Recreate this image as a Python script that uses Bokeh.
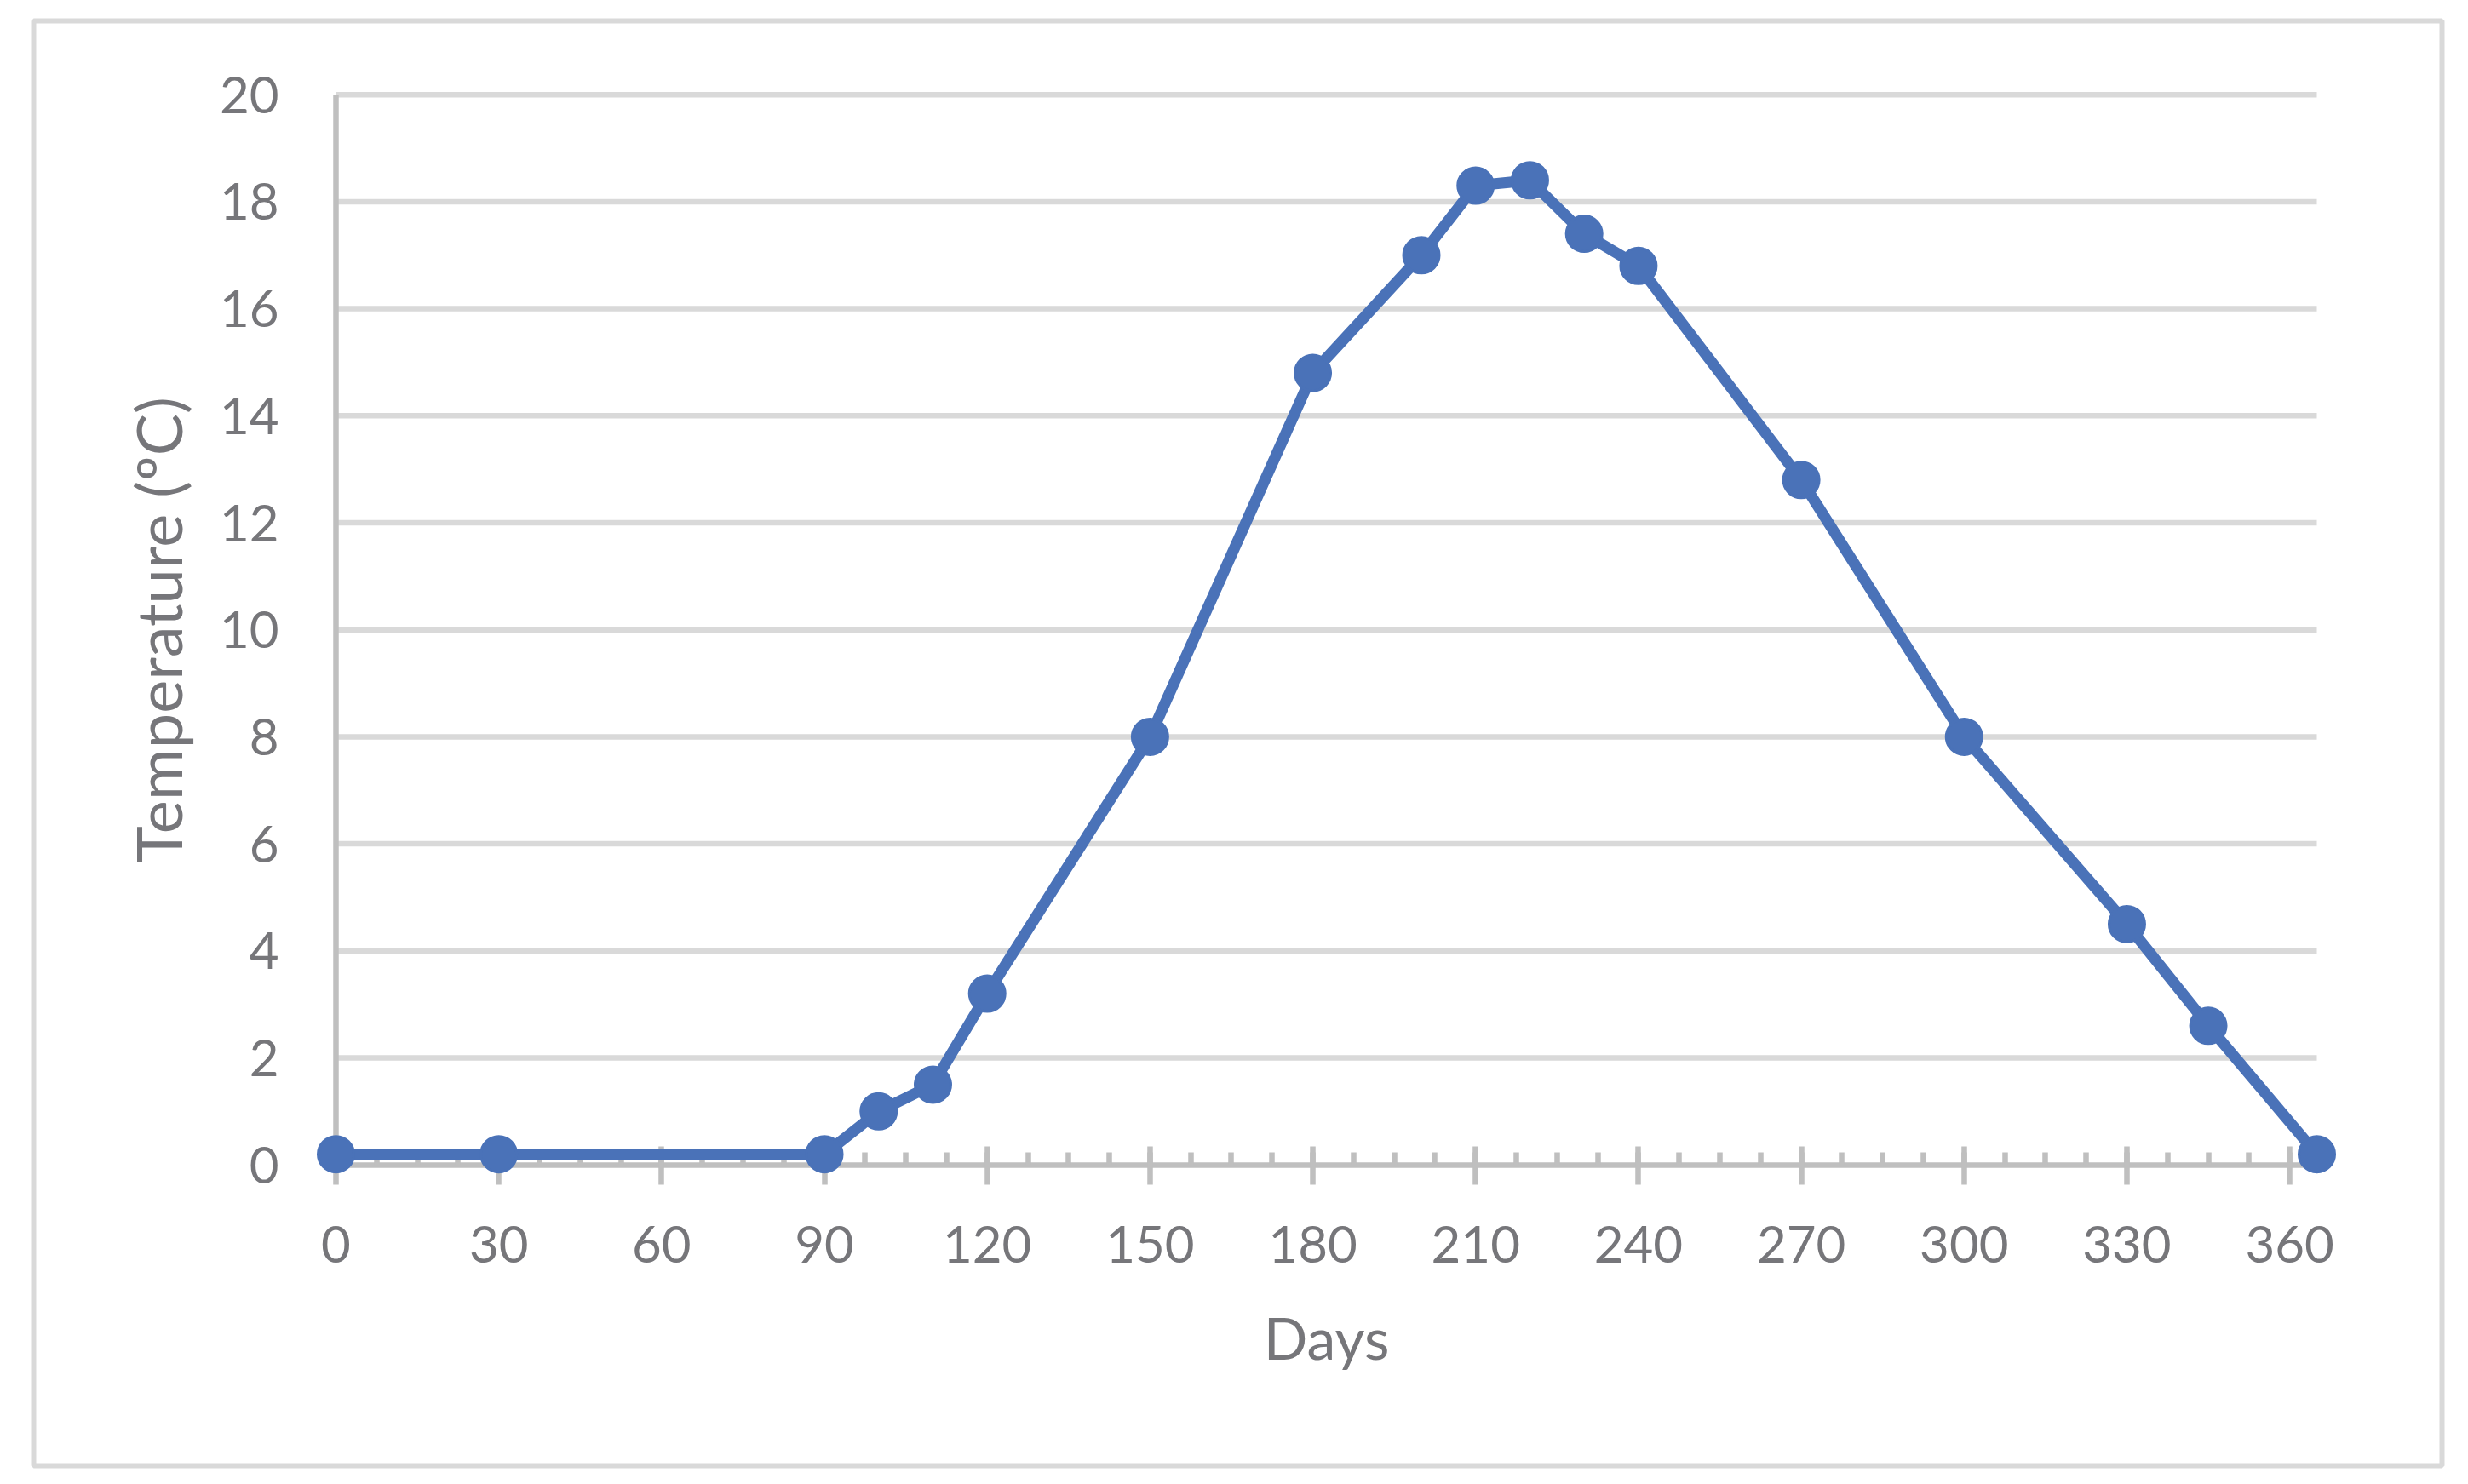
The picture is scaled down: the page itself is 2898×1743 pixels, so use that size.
from bokeh.plotting import figure
from bokeh.models import LinearAxis, Range1d, SingleIntervalTicker, FixedTicker
from bokeh.embed import file_html
from bokeh.resources import INLINE

# ---- data ----
days = [0, 30, 90, 100, 110, 120, 150, 180, 200, 210, 220, 230, 240, 270, 300, 330, 345, 365]
temperature = [0.2, 0.2, 0.2, 1.0, 1.5, 3.2, 8.0, 14.8, 17.0, 18.3, 18.4, 17.4, 16.8, 12.8, 8.0, 4.5, 2.6, 0.2]

x_ticks = [0, 30, 60, 90, 120, 150, 180, 210, 240, 270, 300, 330, 360]
y_ticks = [0, 2, 4, 6, 8, 10, 12, 14, 16, 18, 20]
x_bounds = (0, 365)
y_bounds = (0, 20)
x_label = "Days"
y_label = "Temperature (ºC)"

# ---- styling ----
FONT = "Lato"
TEXT = "#76767a"
AXIS = "#bfbfbf"
GRID = "#d9d9d9"
BLUE = "#4A72B8"

# ---- layout (canvas pixels) ----
W, H = 2890, 1740
FL, FR, FT, FB = 39, 2867, 24, 1721           # chart-area box = plot frame (its outline is the border)
PX0, PX1 = 394, 2720                          # x_bounds on canvas
PY1, PY0 = 110.7, 1367.7                      # y_bounds on canvas

sx = (PX1 - PX0) / (x_bounds[1] - x_bounds[0])
sy = (PY0 - PY1) / (y_bounds[1] - y_bounds[0])
x_range = Range1d(x_bounds[0] - (PX0 - FL) / sx, x_bounds[1] + (FR - PX1) / sx)
y_range = Range1d(y_bounds[0] - (FB - PY0) / sy, y_bounds[1] + (PY1 - FT) / sy)

p = figure(
    width=W, height=H,
    frame_width=FR - FL, frame_height=FB - FT,
    x_range=x_range, y_range=y_range,
    output_backend="svg", toolbar_location=None,
    x_axis_location=None, y_axis_location=None,
    min_border_left=FL, min_border_right=W - FR,
    min_border_top=FT, min_border_bottom=H - FB,
)
p.outline_line_color = GRID
p.outline_line_width = 6
p.xgrid.visible = False
p.ygrid.visible = False
p.background_fill_color = "white"
p.border_fill_color = "white"

# horizontal gridlines (the 0 line is the x axis)
y_grid = [t for t in y_ticks if t != y_bounds[0]]
p.segment(x0=x_bounds[0], x1=x_bounds[1], y0=y_grid, y1=y_grid,
          line_color=GRID, line_width=6.5, level="underlay")

xaxis = LinearAxis(fixed_location=y_bounds[0], bounds=x_bounds,
                   ticker=SingleIntervalTicker(interval=30, num_minor_ticks=4),
                   axis_label=x_label)
xaxis.level = "underlay"
xaxis.axis_line_color = AXIS
xaxis.axis_line_width = 6.5
xaxis.major_tick_line_color = AXIS
xaxis.major_tick_line_width = 6.5
xaxis.major_tick_in = 22
xaxis.major_tick_out = 23
xaxis.minor_tick_line_color = AXIS
xaxis.minor_tick_line_width = 6.5
xaxis.minor_tick_in = 15
xaxis.minor_tick_out = 0
xaxis.major_label_text_font = FONT
xaxis.major_label_text_font_size = "60px"
xaxis.major_label_text_color = TEXT
xaxis.major_label_standoff = 49
xaxis.axis_label_text_font = FONT
xaxis.axis_label_text_font_size = "68px"
xaxis.axis_label_text_font_style = "normal"
xaxis.axis_label_text_color = TEXT
xaxis.axis_label_standoff = 43
p.add_layout(xaxis, "below")

yaxis = LinearAxis(fixed_location=x_bounds[0], bounds=y_bounds,
                   ticker=FixedTicker(ticks=y_ticks), axis_label=y_label)
yaxis.level = "underlay"
yaxis.axis_line_color = AXIS
yaxis.axis_line_width = 6.5
yaxis.major_tick_line_color = None
yaxis.minor_tick_line_color = None
yaxis.major_tick_in = 0
yaxis.major_tick_out = 0
yaxis.minor_tick_in = 0
yaxis.minor_tick_out = 0
yaxis.major_label_text_font = FONT
yaxis.major_label_text_font_size = "60px"
yaxis.major_label_text_color = TEXT
yaxis.major_label_standoff = 67
yaxis.axis_label_text_font = FONT
yaxis.axis_label_text_font_size = "74px"
yaxis.axis_label_text_font_style = "normal"
yaxis.axis_label_text_color = TEXT
yaxis.axis_label_standoff = 25
p.add_layout(yaxis, "left")

p.line(days, temperature, line_color=BLUE, line_width=13, line_join="round")
p.scatter(days, temperature, size=42, fill_color=BLUE, line_color=BLUE, line_width=3)

open("out.html", "w").write(file_html(p, INLINE))
